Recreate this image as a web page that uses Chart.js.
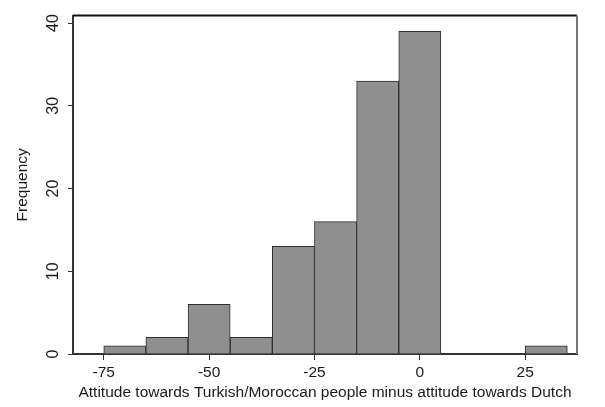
<!DOCTYPE html>
<html>
<head>
<meta charset="utf-8">
<script src="https://cdn.jsdelivr.net/npm/chart.js@4/dist/chart.umd.min.js"></script>
<style>
  html, body { margin: 0; padding: 0; background: #fff; }
  #wrap { width: 605px; height: 407px; }
</style>
</head>
<body>
<div id="wrap"><canvas id="histChart" width="605" height="407"></canvas></div>
<script>
// histogram bins (width 10), centres and counts
const binCenters  = [-70, -60, -50, -40, -30, -20, -10, 0, 10, 20, 30];
const frequencies = [1, 2, 6, 2, 13, 16, 33, 39, 0, 0, 1];
const xTickValues = [-75, -50, -25, 0, 25];
const yTickValues = [0, 10, 20, 30, 40];
const xTitle = "Attitude towards Turkish/Moroccan people minus attitude towards Dutch";
const yTitle = "Frequency";

const axisColor = "#333333";
const textColor = "#1a1a1a";
const fontFamily = "'Liberation Sans', Arial, sans-serif";

// top + right frame of the plot region
const frameLines = {
    id: "frameLines",
    afterDraw(chart) {
        const a = chart.chartArea;
        const ctx = chart.ctx;
        ctx.save();
        ctx.lineWidth = 2;
        ctx.strokeStyle = "#111";
        ctx.beginPath();
        ctx.moveTo(a.left, a.top);
        ctx.lineTo(a.right, a.top);
        ctx.stroke();
        ctx.strokeStyle = "#777";
        ctx.beginPath();
        ctx.moveTo(a.right, a.top);
        ctx.lineTo(a.right, a.bottom);
        ctx.stroke();
        ctx.restore();
    }
};

new Chart(document.getElementById("histChart"), {
    type: "bar",
    data: {
        datasets: [{
            data: binCenters.map((x, i) => ({ x: x, y: frequencies[i] })),
            backgroundColor: "#8f8f8f",
            borderColor: "#2e2e2e",
            borderWidth: 1,
            borderSkipped: "bottom",
            barPercentage: 1,
            categoryPercentage: 1
        }]
    },
    options: {
        responsive: false,
        animation: false,
        layout: { padding: { left: 8, right: 28, top: 10, bottom: 4 } },
        plugins: {
            legend: { display: false },
            tooltip: { enabled: false }
        },
        scales: {
            x: {
                type: "linear",
                offset: false,
                min: -82.3,
                max: 37.3,
                afterBuildTicks: s => { s.ticks = xTickValues.map(v => ({ value: v })); },
                afterFit: s => { s.height = 49; },
                grid: { offset: false, drawOnChartArea: false, drawTicks: true, tickLength: 6, color: axisColor, lineWidth: 1 },
                border: { display: true, color: axisColor, width: 2 },
                ticks: {
                    color: textColor,
                    padding: 3,
                    maxRotation: 0,
                    font: { family: fontFamily, size: 15.5 }
                },
                title: {
                    display: true,
                    text: xTitle,
                    color: textColor,
                    padding: { top: 0, bottom: 1 },
                    font: { family: fontFamily, size: 15.5 }
                }
            },
            y: {
                min: 0,
                max: 40.9,
                afterBuildTicks: s => { s.ticks = yTickValues.map(v => ({ value: v })); },
                afterFit: s => { s.width = 65; },
                grid: { drawOnChartArea: false, drawTicks: true, tickLength: 5, color: axisColor, lineWidth: 1 },
                border: { display: true, color: axisColor, width: 2 },
                ticks: {
                    color: textColor,
                    padding: 6,
                    minRotation: 90,
                    maxRotation: 90,
                    crossAlign: "center",
                    font: { family: fontFamily, size: 16 }
                },
                title: {
                    display: true,
                    text: yTitle,
                    color: textColor,
                    padding: { top: 5, bottom: 0 },
                    font: { family: fontFamily, size: 15.5 }
                }
            }
        }
    },
    plugins: [frameLines]
});
</script>
</body>
</html>
